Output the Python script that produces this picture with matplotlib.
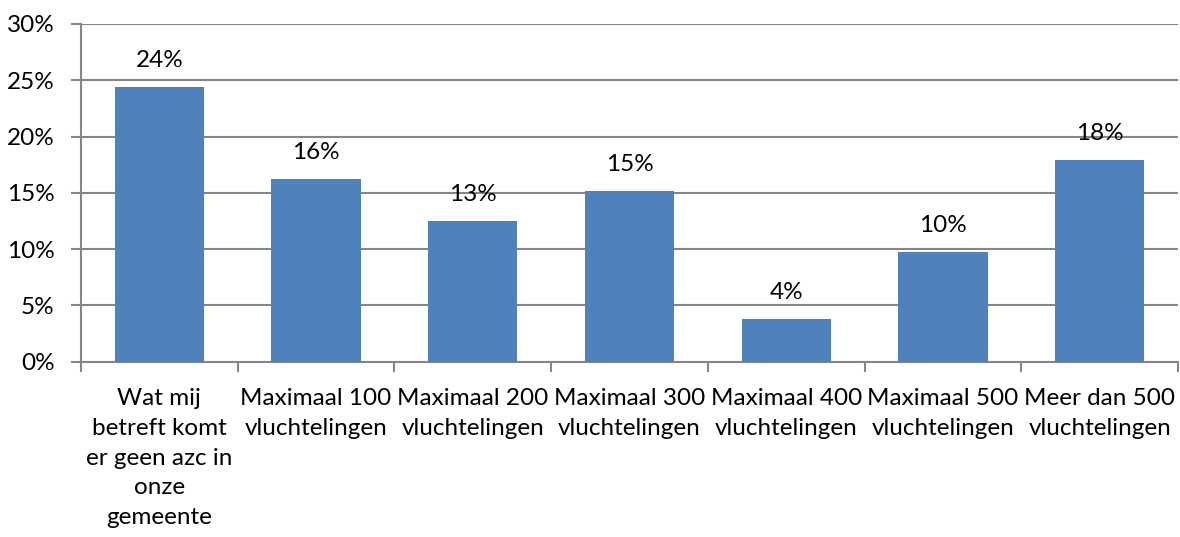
import matplotlib
matplotlib.use("Agg")
import matplotlib.pyplot as plt
import numpy as np

categories = [
    "Wat mij\nbetreft komt\ner geen azc in\nonze\ngemeente",
    "Maximaal 100\nvluchtelingen",
    "Maximaal 200\nvluchtelingen",
    "Maximaal 300\nvluchtelingen",
    "Maximaal 400\nvluchtelingen",
    "Maximaal 500\nvluchtelingen",
    "Meer dan 500\nvluchtelingen",
]
values = [24.4, 16.2, 12.5, 15.2, 3.8, 9.7, 17.9]
labels = ["24%", "16%", "13%", "15%", "4%", "10%", "18%"]
yticks = [0, 5, 10, 15, 20, 25, 30]

plt.rcParams['font.family'] = ['Lato', 'DejaVu Sans']
FS = 17.5

fig = plt.figure(figsize=(11.8, 5.37), dpi=100)
ax = fig.add_axes([81/1180, 1-361.5/537, (1178-81)/1180, (361.5-24)/537])

x = np.arange(len(categories))
ax.bar(x, values, width=0.57, color="#4F81BD", zorder=3)
for xi, v, lab in zip(x, values, labels):
    ax.annotate(lab, (xi, v), xytext=(0, 19), textcoords="offset points",
                ha="center", va="center", fontsize=FS, color="black", zorder=4)

ax.set_xlim(-0.5, len(categories) - 0.5)
ax.set_ylim(0, 30)
ax.set_yticks(yticks)
ax.set_yticklabels([f"{t}%" for t in yticks], fontsize=FS)
ax.yaxis.grid(True, color="#868686", linewidth=1.5, zorder=0)
ax.set_axisbelow(True)

ax.set_xticks(x)
ax.set_xticklabels(categories, fontsize=FS, linespacing=1.52)
ax.set_xticks(np.arange(len(categories) + 1) - 0.5, minor=True)
ax.tick_params(axis="x", which="major", length=0, pad=19)
ax.tick_params(axis="x", which="minor", length=7, width=1.5, color="#868686", direction="out")
ax.tick_params(axis="y", length=7, width=1.5, color="#868686", direction="out", pad=12)

for s in ["top", "right"]:
    ax.spines[s].set_visible(False)
for s in ["left", "bottom"]:
    ax.spines[s].set_color("#868686")
    ax.spines[s].set_linewidth(1.5)

fig.savefig("out.png", dpi=100)
